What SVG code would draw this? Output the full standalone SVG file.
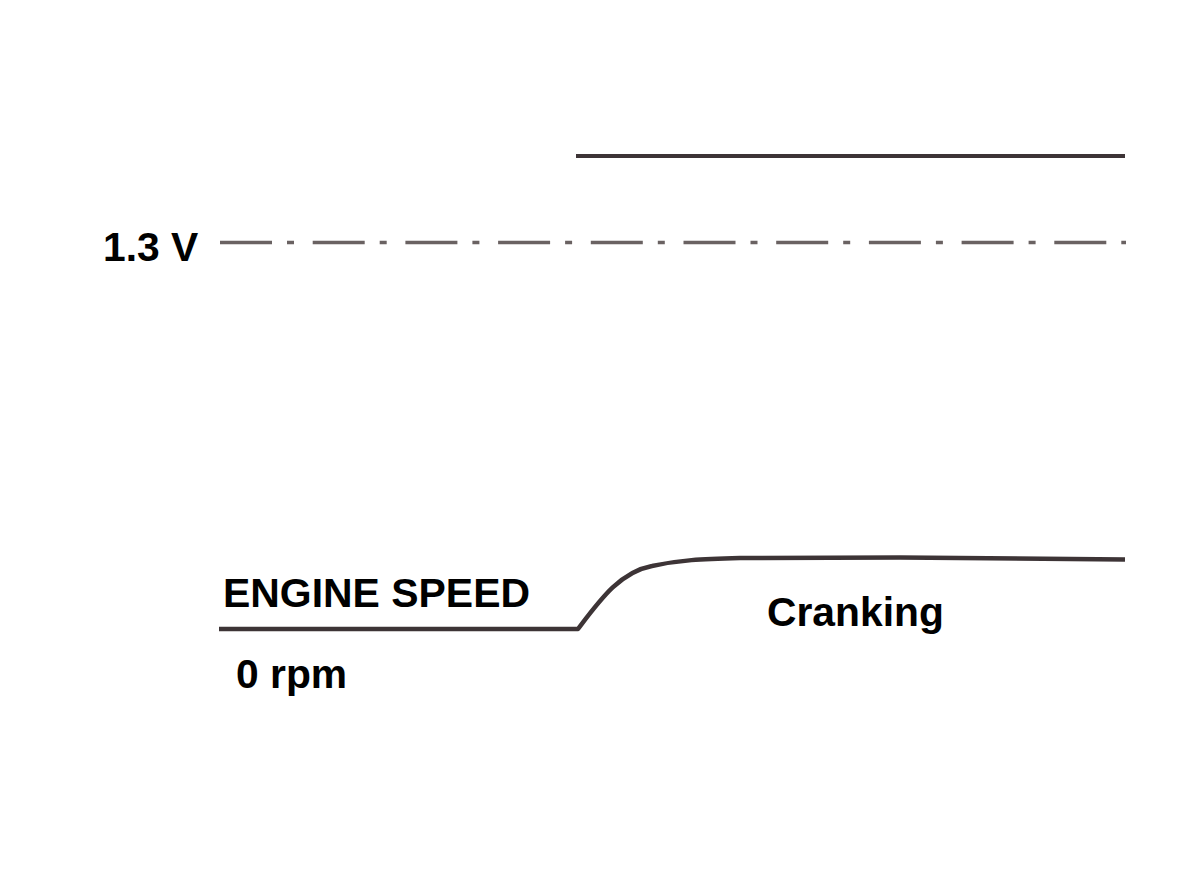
<svg xmlns="http://www.w3.org/2000/svg" width="1200" height="878" viewBox="0 0 1200 878">
<style>
.lbl{font-family:"Liberation Sans",Arial,sans-serif;font-weight:bold;font-size:40.8px;fill:#000}
.sig{fill:none;stroke:#3d3436;stroke-linecap:butt;stroke-linejoin:round}
.ref{fill:none;stroke:#6a6262;stroke-width:3.5;stroke-dasharray:52 15 7 18.7}
</style>
<rect width="1200" height="878" fill="#fff"/>
<g id="connectors">
<path id="signal" class="sig" stroke-width="4" d="M576 156 H1125"/>
<path id="threshold" class="ref" d="M220 242.5 H1126"/>
<path id="engine-speed" class="sig" stroke-width="4.5" d="M219 629 H578 C600 600 620 572 652 566 C680 560 700 559 740 558 L900 557.5 L1125 559.5"/>
</g>
<g id="label-13v"><text class="lbl" x="103" y="261">1.3 V</text></g>
<g id="label-engine-speed"><text class="lbl" x="223" y="607" textLength="307" lengthAdjust="spacingAndGlyphs">ENGINE SPEED</text></g>
<g id="label-0rpm"><text class="lbl" x="236" y="688">0 rpm</text></g>
<g id="label-cranking"><text class="lbl" x="767" y="626">Cranking</text></g>
</svg>
